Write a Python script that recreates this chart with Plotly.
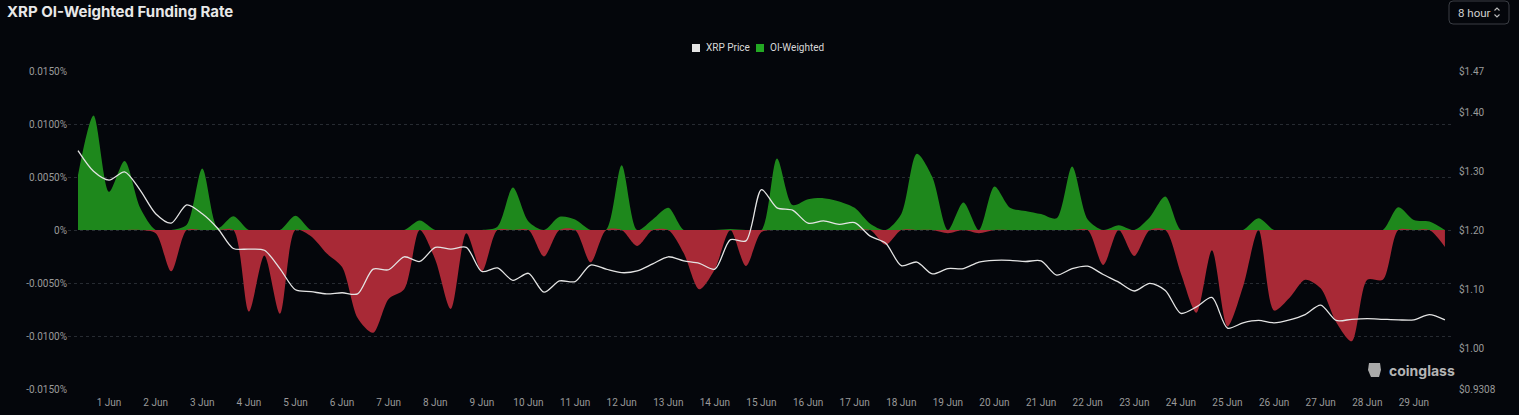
import numpy as np
import pandas as pd
import plotly.graph_objects as go

# ---------------- data ----------------
start_time = "2026-05-31 08:00"
n_points = 89  # 8-hour samples

funding_rate_pct = [
    0.0052, 0.0108, 0.0036, 0.0065, 0.0021, -0.0003, -0.0039, 0.0005, 0.0058, 0.0002,
    0.0013, -0.0077, -0.0024, -0.0079, 0.00135, -0.0006, -0.0022, -0.0035, -0.0083, -0.0097,
    -0.0065, -0.0056, 0.0009, -0.0028, -0.00745, -0.0003, -0.0039, 0.0003, 0.0040, 0.0008,
    -0.0025, 0.00125, 0.0010, -0.00305, 0.0000, 0.0061, -0.0015, 0.0010, 0.0021, -0.0022,
    -0.0056, -0.0037, 0.0001, -0.0034, -0.0002, 0.00675, 0.00235, 0.0029, 0.0030, 0.0027,
    0.0021, 0.0006, -0.0014, 0.0015, 0.0072, 0.0050, -0.0003, 0.0026, -0.0003, 0.0041,
    0.0021, 0.0018, 0.0015, 0.0011, 0.0060, 0.0010, -0.0033, 0.00045, -0.00245, 0.0012,
    0.00315, -0.0041, -0.0078, -0.0019, -0.0091, -0.00535, 0.0011, -0.0076, -0.0064, -0.0047,
    -0.0055, -0.0087, -0.0105, -0.0047, -0.0047, 0.00215, 0.00095, 0.0008, -0.0016,
]

xrp_price = [
    1.335, 1.300, 1.285, 1.299, 1.268, 1.228, 1.212, 1.243, 1.228, 1.203,
    1.169, 1.168, 1.166, 1.135, 1.099, 1.096, 1.092, 1.094, 1.092, 1.134,
    1.133, 1.155, 1.147, 1.171, 1.168, 1.171, 1.130, 1.136, 1.115, 1.127,
    1.095, 1.114, 1.113, 1.141, 1.134, 1.128, 1.131, 1.143, 1.155, 1.148,
    1.144, 1.134, 1.184, 1.182, 1.269, 1.238, 1.234, 1.212, 1.216, 1.210,
    1.213, 1.190, 1.178, 1.140, 1.146, 1.126, 1.135, 1.135, 1.146, 1.149,
    1.149, 1.147, 1.148, 1.124, 1.135, 1.139, 1.125, 1.112, 1.097, 1.110,
    1.098, 1.059, 1.070, 1.086, 1.034, 1.043, 1.047, 1.043, 1.048, 1.057,
    1.073, 1.047, 1.049, 1.050, 1.049, 1.048, 1.048, 1.057, 1.048,
]

left_tick_vals = [0.015, 0.01, 0.005, 0.0, -0.005, -0.01, -0.015]
left_tick_text = ["0.0150%", "0.0100%", "0.0050%", "0%", "-0.0050%", "-0.0100%", "-0.0150%"]
right_tick_vals = [1.47, 1.40, 1.30, 1.20, 1.10, 1.00, 0.9308]
right_tick_text = ["$1.47", "$1.40", "$1.30", "$1.20", "$1.10", "$1.00", "$0.9308"]
x_tick_days = list(range(1, 30))
legend_names = ["XRP Price", "OI-Weighted"]

# ---------------- figure ----------------
W, H = 1519, 415
L, R, T, B = 68, 1453, 71, 389  # plot area in px

def px_x(px):
    return (px - L) / (R - L)

def px_y(py):
    return (B - py) / (B - T)

times = pd.date_range(start_time, periods=n_points, freq="8h")
f = np.array(funding_rate_pct)
pos = np.maximum(f, 0)
neg = np.minimum(f, 0)

GREEN = "#1e881c"
RED = "#a82936"
BG = "#04060b"
PRICE = "#e4e4e4"

fig = go.Figure()
fig.add_trace(go.Scatter(x=times, y=pos, mode="lines", fill="tozeroy", fillcolor=GREEN,
                         line=dict(width=0, color=GREEN, shape="spline", smoothing=0.8),
                         name=legend_names[1], showlegend=False, hoverinfo="skip"))
fig.add_trace(go.Scatter(x=times, y=neg, mode="lines", fill="tozeroy", fillcolor=RED,
                         line=dict(width=0, color=RED, shape="spline", smoothing=0.8),
                         name=legend_names[1], showlegend=False, hoverinfo="skip"))
fig.add_trace(go.Scatter(x=times, y=xrp_price, mode="lines", yaxis="y2", name=legend_names[0],
                         line=dict(width=1.3, color=PRICE, shape="spline", smoothing=0.8),
                         showlegend=False))

t0 = pd.Timestamp(start_time)
px_per_day = 46.6
x_left = t0 - pd.Timedelta(days=(78 - L) / px_per_day)
x_right = t0 + pd.Timedelta(days=(R - 78) / px_per_day)

tick_dates = [pd.Timestamp(f"2026-06-{d:02d}") for d in x_tick_days]

fig.update_layout(
    width=W, height=H,
    margin=dict(l=L, r=W - R, t=T, b=H - B, autoexpand=False),
    paper_bgcolor=BG, plot_bgcolor=BG,
    font=dict(family="Roboto, Inter, sans-serif", color="#9a9a9a", size=10),
    xaxis=dict(type="date", range=[x_left, x_right], tickvals=tick_dates, automargin=False,
               ticktext=[f"{d} Jun" for d in x_tick_days], showgrid=False, zeroline=False,
               showline=False, ticks="outside", ticklen=4, tickcolor="rgba(0,0,0,0)",
               tickfont=dict(size=10, color="#9a9a9a")),
    yaxis=dict(range=[-0.015, 0.015], tickvals=left_tick_vals, ticktext=left_tick_text,
               automargin=False,
               showgrid=True, gridcolor="#272b32", griddash="3px,3px", gridwidth=1,
               zeroline=False, showline=False, ticks="", tickfont=dict(size=10, color="#9a9a9a")),
    yaxis2=dict(range=[0.9308, 1.47], overlaying="y", side="right", tickvals=right_tick_vals,
                automargin=False,
                ticktext=right_tick_text, showgrid=False, zeroline=False, showline=False,
                ticks="outside", ticklen=3, tickcolor="rgba(0,0,0,0)",
                tickfont=dict(size=10, color="#9a9a9a")),
    showlegend=False,
)

# legend (swatches + labels)
legend_items = [(692, PRICE, legend_names[0]), (756, "#23a823", legend_names[1])]
for sx, col, name in legend_items:
    fig.add_shape(type="rect", xref="paper", yref="paper",
                  x0=px_x(sx), x1=px_x(sx + 8), y0=px_y(52), y1=px_y(44),
                  fillcolor=col, line=dict(width=0))
    fig.add_annotation(text=name, xref="paper", yref="paper", x=px_x(sx + 12), y=px_y(48),
                       xanchor="left", yanchor="middle", showarrow=False,
                       font=dict(family="Roboto, Inter, sans-serif", size=10, color="#d8d8d8"))

# title
fig.add_annotation(text="<b>XRP OI-Weighted Funding Rate</b>", xref="paper", yref="paper",
                   x=px_x(5), y=px_y(12), xanchor="left", yanchor="middle", showarrow=False,
                   font=dict(family="Inter, Roboto, sans-serif", size=15, color="#e8e8e8"))

# "8 hour" select box
bx0, bx1, by0, by1, r = 1449, 1509, 1, 24, 4
path = (f"M {px_x(bx0 + r)},{px_y(by0)} L {px_x(bx1 - r)},{px_y(by0)} "
        f"Q {px_x(bx1)},{px_y(by0)} {px_x(bx1)},{px_y(by0 + r)} "
        f"L {px_x(bx1)},{px_y(by1 - r)} Q {px_x(bx1)},{px_y(by1)} {px_x(bx1 - r)},{px_y(by1)} "
        f"L {px_x(bx0 + r)},{px_y(by1)} Q {px_x(bx0)},{px_y(by1)} {px_x(bx0)},{px_y(by1 - r)} "
        f"L {px_x(bx0)},{px_y(by0 + r)} Q {px_x(bx0)},{px_y(by0)} {px_x(bx0 + r)},{px_y(by0)} Z")
fig.add_shape(type="path", path=path, xref="paper", yref="paper",
              line=dict(color="#3a3d44", width=1), fillcolor=BG)
fig.add_annotation(text="8 hour", xref="paper", yref="paper", x=px_x(1456), y=px_y(12.5),
                   xanchor="left", yanchor="middle", showarrow=False,
                   font=dict(family="Roboto, Inter, sans-serif", size=11.5, color="#d0d0d0"))
# chevrons
cx = 1497
fig.add_shape(type="path", xref="paper", yref="paper",
              path=f"M {px_x(cx - 2.5)},{px_y(10.5)} L {px_x(cx)},{px_y(8)} L {px_x(cx + 2.5)},{px_y(10.5)}",
              line=dict(color="#bbbbbb", width=1.1))
fig.add_shape(type="path", xref="paper", yref="paper",
              path=f"M {px_x(cx - 2.5)},{px_y(14.5)} L {px_x(cx)},{px_y(17)} L {px_x(cx + 2.5)},{px_y(14.5)}",
              line=dict(color="#bbbbbb", width=1.1))

# coinglass watermark
fig.add_shape(type="path", xref="paper", yref="paper",
              path=(f"M {px_x(1369)},{px_y(363)} L {px_x(1380)},{px_y(363)} L {px_x(1381)},{px_y(370)} "
                    f"L {px_x(1379)},{px_y(377)} L {px_x(1371)},{px_y(377)} L {px_x(1368)},{px_y(370)} Z"),
              fillcolor="#a9a9a9", line=dict(width=0))
fig.add_annotation(text="<b>coinglass</b>", xref="paper", yref="paper", x=px_x(1387), y=px_y(370),
                   xanchor="left", yanchor="middle", showarrow=False,
                   font=dict(family="Inter, Roboto, sans-serif", size=14, color="#b4b4b4"))

fig.write_html("out.html")
